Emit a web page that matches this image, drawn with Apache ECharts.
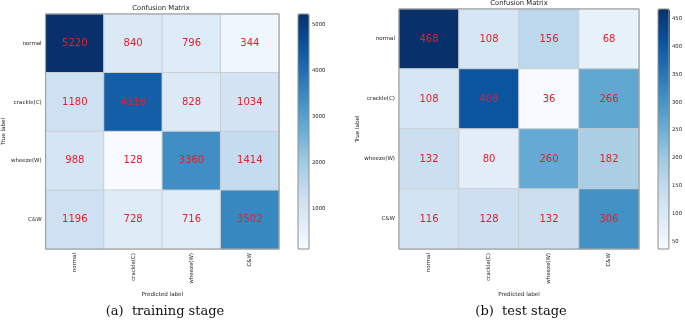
<!DOCTYPE html>
<html><head><meta charset="utf-8">
<script src="https://cdn.jsdelivr.net/npm/echarts@6/dist/echarts.min.js"></script>
<style>html,body{margin:0;padding:0;background:#fff}#c{width:685px;height:322px}</style>
</head><body><div id="c"></div>
<script>
const classes = ['normal', 'crackle(C)', 'wheeze(W)', 'C&W'];
const trainMatrix = [
  [5220, 840, 796, 344],
  [1180, 4316, 828, 1034],
  [988, 128, 3360, 1414],
  [1196, 728, 716, 3502]
];
const testMatrix = [
  [468, 108, 156, 68],
  [108, 408, 36, 266],
  [132, 80, 260, 182],
  [116, 128, 132, 306]
];
const trainTicks = [1000, 2000, 3000, 4000, 5000];
const testTicks = [50, 100, 150, 200, 250, 300, 350, 400, 450];
const panelTitle = 'Confusion Matrix';
const captions = ['(a)  training stage', '(b)  test stage'];
const xName = 'Predicted label';
const yName = 'True label';

const blues = ['#f7fbff','#deebf7','#c6dbef','#9ecae1','#6baed6','#4292c6','#2171b5','#08519c','#08306b'];
const FONT = 'DejaVu Sans';

function toData(m) {
  const d = [];
  m.forEach((row, r) => row.forEach((v, c) => d.push([c, r, v])));
  return d;
}
function flatMin(m) { return Math.min.apply(null, m.flat()); }
function flatMax(m) { return Math.max.apply(null, m.flat()); }

const panels = [
  { m: trainMatrix, ticks: trainTicks, grid: {left: 43, top: 14, width: 236, height: 235}, bar: {left: 298, top: 14, width: 11, height: 235}, titleX: 161, titleY: 5, capX: 165 },
  { m: testMatrix, ticks: testTicks, grid: {left: 399, top: 9, width: 240, height: 240}, bar: {left: 658, top: 9, width: 12, height: 240}, titleX: 519, titleY: 0, capX: 521 }
];

const grid = [], xAxis = [], yAxis = [], series = [], visualMap = [], title = [];
panels.forEach((p, i) => {
  const mn = flatMin(p.m), mx = flatMax(p.m);
  grid.push(Object.assign({ show: true, borderColor: '#9a9a9a', borderWidth: 1, z: 5, backgroundColor: 'transparent' }, p.grid));
  const gi = grid.length - 1;
  xAxis.push({
    type: 'category', gridIndex: gi, data: classes, position: 'bottom',
    axisLine: { show: false }, axisTick: { show: false }, splitLine: { show: false },
    axisLabel: { rotate: 90, fontSize: 5.5, fontFamily: FONT, color: '#222', margin: 4 },
    name: xName, nameLocation: 'middle', nameGap: 36,
    nameTextStyle: { fontSize: 5.6, fontFamily: FONT, color: '#222' }
  });
  yAxis.push({
    type: 'category', gridIndex: gi, data: classes, inverse: true,
    axisLine: { show: false }, axisTick: { show: false }, splitLine: { show: false },
    axisLabel: { fontSize: 5.5, fontFamily: FONT, color: '#222', margin: 4 },
    name: yName, nameLocation: 'middle', nameGap: 36, nameRotate: 90,
    nameTextStyle: { fontSize: 5.6, fontFamily: FONT, color: '#222' }
  });
  series.push({
    type: 'heatmap', xAxisIndex: xAxis.length - 1, yAxisIndex: yAxis.length - 1,
    data: toData(p.m),
    itemStyle: { borderColor: '#c9ced3', borderWidth: 1 },
    label: { show: true, formatter: (q) => String(q.value[2]), color: '#e3202c', fontSize: 10, fontFamily: FONT },
    emphasis: { disabled: true }
  });
  visualMap.push({
    type: 'continuous', min: mn, max: mx, seriesIndex: i, calculable: false,
    orient: 'vertical', left: p.bar.left, top: p.bar.top,
    itemWidth: p.bar.width, itemHeight: p.bar.height, padding: 0,
    inRange: { color: blues }, hoverLink: false
  });
  grid.push(Object.assign({ show: true, borderColor: '#8f8f8f', borderWidth: 1, z: 10, backgroundColor: 'transparent' }, p.bar));
  const ci = grid.length - 1;
  xAxis.push({ type: 'value', gridIndex: ci, show: false, min: 0, max: 1 });
  yAxis.push({
    type: 'value', gridIndex: ci, position: 'right', min: mn, max: mx,
    axisLine: { show: false }, splitLine: { show: false },
    axisTick: { show: true, length: 2, customValues: p.ticks, lineStyle: { color: '#333', width: 0.6 } },
    axisLabel: { customValues: p.ticks, formatter: (v) => String(v), fontSize: 5.3, fontFamily: FONT, color: '#222', margin: 3 }
  });
  title.push({ text: panelTitle, left: p.titleX, top: p.titleY, textAlign: 'center', padding: 0,
    textStyle: { fontSize: 6.8, fontWeight: 'normal', fontFamily: FONT, color: '#222' } });
  title.push({ text: captions[i], left: p.capX, top: 305, textAlign: 'center', padding: 0,
    textStyle: { fontSize: 13, fontWeight: 'normal', fontFamily: 'DejaVu Serif', color: '#111' } });
});

const chart = echarts.init(document.getElementById('c'), null, { renderer: 'canvas' });
chart.setOption({ animation: false, backgroundColor: '#fff', title, grid, xAxis, yAxis, visualMap, series });
</script>
</body></html>
